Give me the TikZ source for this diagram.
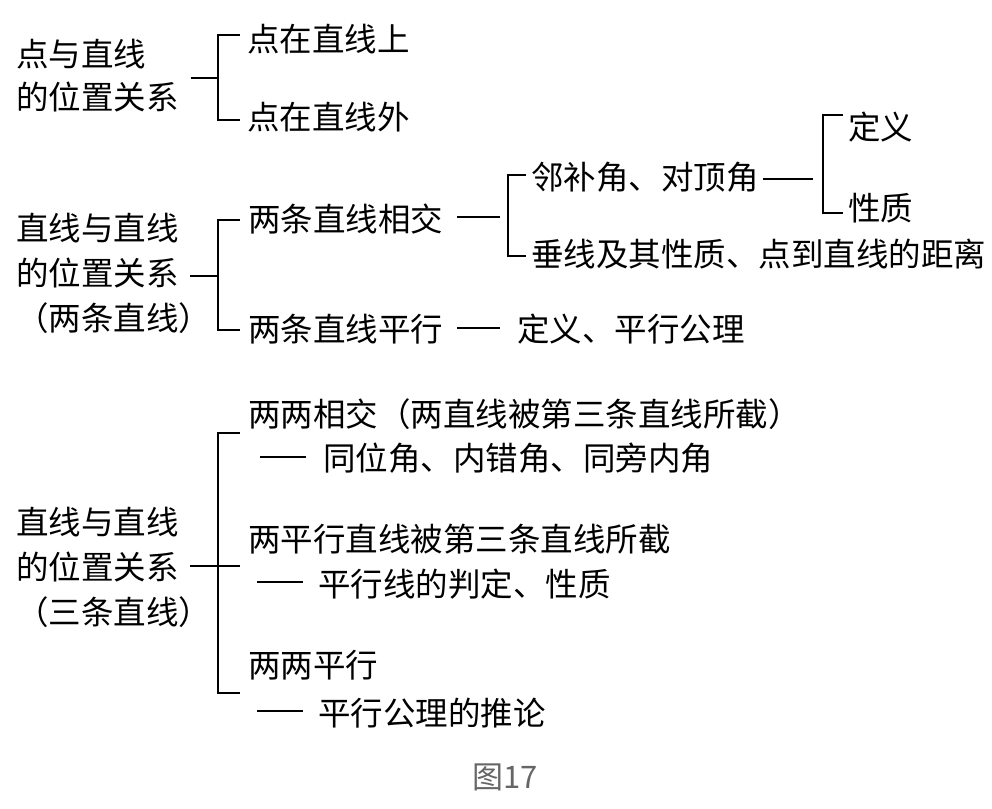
\documentclass[tikz,border=0pt]{standalone}
\usepackage{fontspec}
\setmainfont{Noto Sans CJK SC}
\begin{document}
\begin{tikzpicture}[x=1pt,y=-1pt,
  t/.style={anchor=west,inner sep=0pt,font=\fontsize{32.5}{38}\selectfont,text height=28.6pt,text depth=3.9pt},
  br/.style={line width=2.6pt,line cap=butt},
  cap17/.style={inner sep=0pt,font=\fontsize{31}{36}\selectfont,text=black!60}]
\useasboundingbox (0,0) rectangle (992,808);
% ---------- section 1
\node[t] (a1) at (16,54) {点与直线};
\node[t] (a2) at (16,97) {的位置关系};
\node[t] (a3) at (247,39) {点在直线上};
\node[t] (a4) at (247,117) {点在直线外};
\coordinate (s1a) at (191,78);
\coordinate (s1b) at (218,78);
\draw[br] (s1a) -- (s1b);
\draw[br] ([xshift=-7pt]a3.west |- 0,35) -| (218,120) -- ([xshift=-7pt]a4.west |- 0,120);
% ---------- section 2
\node[t] (b1) at (16,228) {直线与直线};
\node[t] (b2) at (16,273) {的位置关系};
\node[t] (b3) at (16,318) {（两条直线）};
\node[t] (b4) at (248,219) {两条直线相交};
\node[t] (b5) at (248,329) {两条直线平行};
\node[t] (b6) at (531,177) {邻补角、对顶角};
\node[t] (b7) at (531,254) {垂线及其性质、点到直线的距离};
\node[t] (b8) at (848,127) {定义};
\node[t] (b9) at (848,208) {性质};
\node[t] (b10) at (517,329) {定义、平行公理};
\draw[br] (190,276) -- (218,276);
\draw[br] (240,220) -| (218,330) -- (240,330);
\draw[br] (457,217) -- (500,217);
\draw[br] (526,175) -| (508,256) -- (526,256);
\draw[br] (763,179) -- (813,179);
\draw[br] (843,115) -| (823,213) -- (843,213);
\draw[br] (457,328) -- (500,328);
% ---------- section 3
\node[t] (c1) at (16,522) {直线与直线};
\node[t] (c2) at (16,567) {的位置关系};
\node[t] (c3) at (16,612) {（三条直线）};
\node[t] (c4) at (248,414) {两两相交（两直线被第三条直线所截）};
\node[t] (c5) at (323,458) {同位角、内错角、同旁内角};
\node[t] (c6) at (248,539) {两平行直线被第三条直线所截};
\node[t] (c7) at (318,584) {平行线的判定、性质};
\node[t] (c8) at (248,665) {两两平行};
\node[t] (c9) at (318,713) {平行公理的推论};
\draw[br] (190,566) -- (240,566);
\draw[br] (240,433) -| (218,693) -- (240,693);
\draw[br] (260,457) -- (306,457);
\draw[br] (257,582) -- (303,582);
\draw[br] (257,711) -- (303,711);
% ---------- caption
\node[cap17] (cap) at (505,777) {图17};
\end{tikzpicture}
\end{document}
